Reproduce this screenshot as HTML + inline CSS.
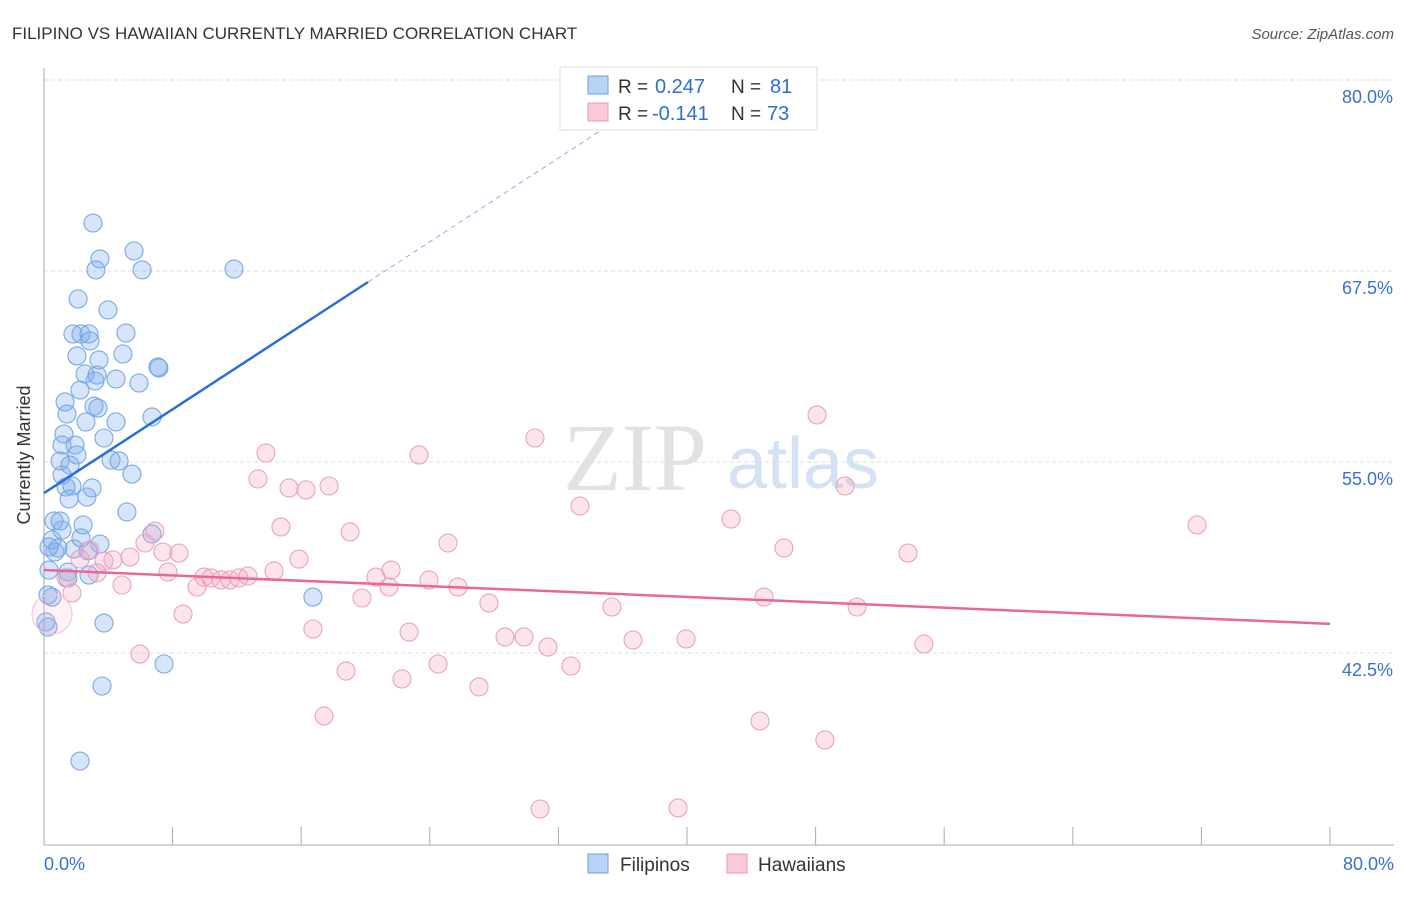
<!DOCTYPE html>
<html><head><meta charset="utf-8"><style>
body{margin:0;background:#fff;font-family:"Liberation Sans",sans-serif}
</style></head><body>
<svg width="1406" height="892" xmlns="http://www.w3.org/2000/svg" style="font-family:'Liberation Sans',sans-serif">
<text x="12" y="39" font-size="17" fill="#333">FILIPINO VS HAWAIIAN CURRENTLY MARRIED CORRELATION CHART</text>
<text x="1394" y="39" font-size="15" fill="#555" font-style="italic" text-anchor="end">Source: ZipAtlas.com</text>
<g><text x="635" y="490" font-size="96" fill="#e2e2e2" font-family="Liberation Serif" text-anchor="middle">ZIP</text><text x="803" y="488" font-size="72" fill="#d3e2f4" text-anchor="middle">atlas</text></g>
<g id="grid"></g>
<g id="axes"></g>
<g id="pts"></g>
<g id="trend"></g>
<text x="30" y="455" font-size="18" fill="#333" text-anchor="middle" transform="rotate(-90 30 455)">Currently Married</text>
<g>
<rect x="560" y="67" width="257" height="63" fill="#fff" stroke="#ddd"/>
<rect x="588" y="76" width="20" height="18" fill="#b9d3f5" stroke="#6a9ee0"/>
<rect x="588" y="103" width="20" height="18" fill="#f9c9d8" stroke="#e89ab5"/>
<text x="618" y="93" font-size="19" fill="#333">R =</text><text x="655" y="93" font-size="20" fill="#2a6fd6">0.247</text>
<text x="731" y="93" font-size="19" fill="#333">N =</text><text x="770" y="93" font-size="20" fill="#2a6fd6">81</text>
<text x="618" y="120" font-size="19" fill="#333">R =</text><text x="652" y="120" font-size="20" fill="#2a6fd6">-0.141</text>
<text x="731" y="120" font-size="19" fill="#333">N =</text><text x="767" y="120" font-size="20" fill="#2a6fd6">73</text>
</g>
<g>
<rect x="588" y="854" width="20" height="19" fill="#b9d3f5" stroke="#6a9ee0"/>
<text x="620" y="871" font-size="19" fill="#333">Filipinos</text>
<rect x="727" y="854" width="20" height="19" fill="#f9c9d8" stroke="#e89ab5"/>
<text x="758" y="871" font-size="19" fill="#333">Hawaiians</text>
</g>
</svg>
<script>
const yTicks=[80,67.5,55,42.5];
const yTickLabels=["80.0%","67.5%","55.0%","42.5%"];
const xTickLabels=["0.0%","80.0%"];
const blueX=[3.05,5.6,3.48,3.23,6.1,11.82,2.12,3.98,1.8,2.3,2.8,5.1,2.86,2.05,3.42,4.91,7.09,7.15,2.55,3.3,4.48,5.91,3.17,2.24,3.11,1.31,3.36,1.43,6.72,4.48,2.61,1.24,3.73,1.12,1.93,2.05,1.0,1.62,4.17,4.67,1.12,5.47,1.37,2.99,1.74,1.56,2.67,5.16,0.62,1.0,1.12,2.43,6.72,0.5,2.3,0.31,0.87,1.87,3.48,0.68,2.74,1.49,0.31,1.49,2.8,0.25,0.5,16.73,3.73,0.12,0.25,7.47,3.61,2.24];
const blueY=[70.64,68.81,68.29,67.57,67.57,67.63,65.67,64.95,63.38,63.38,63.38,63.44,62.92,61.94,61.68,62.07,61.22,61.15,60.76,60.69,60.43,60.17,60.3,59.71,58.66,58.93,58.53,58.14,57.95,57.62,57.62,56.83,56.57,56.11,56.11,55.46,55.07,54.8,55.13,55.07,54.15,54.21,53.36,53.3,53.43,52.58,52.71,51.73,51.14,51.14,50.55,50.88,50.29,49.9,50.03,49.44,49.37,49.31,49.63,49.11,49.18,47.8,47.93,47.41,47.6,46.3,46.16,46.16,44.46,44.53,44.2,41.78,40.34,35.43];
const pinkX=[13.81,23.33,30.54,48.09,13.31,15.24,16.3,17.73,33.34,49.83,71.73,42.74,14.74,19.04,25.13,6.9,6.28,2.86,7.4,8.4,46.03,53.75,15.86,5.35,4.29,3.73,2.24,7.71,9.95,10.39,11.01,11.57,12.13,12.69,14.31,20.65,21.59,23.95,25.75,4.85,1.37,9.52,21.46,1.74,19.78,27.68,35.33,44.79,50.58,8.65,16.73,22.71,28.68,29.86,31.35,36.64,39.94,54.74,5.97,24.51,18.79,32.78,22.27,27.06,17.42,44.54,48.58,30.86,39.44,3.3,0.5];
const pinkY=[55.59,55.46,56.57,58.08,53.89,53.3,53.17,53.43,52.12,53.43,50.88,51.27,50.75,50.42,49.7,50.48,49.7,49.24,49.11,49.04,49.37,49.04,48.65,48.78,48.59,48.52,48.65,47.8,47.47,47.41,47.28,47.28,47.41,47.54,47.87,47.47,47.93,47.28,46.82,46.95,47.41,46.82,46.82,46.43,46.1,45.77,45.51,46.16,45.51,45.05,44.07,43.87,43.55,43.55,42.89,43.35,43.42,43.09,42.43,41.78,41.32,41.65,40.8,40.28,38.38,38.05,36.81,32.29,32.36,47.74,45.05];
const blueTrend=[52.97,0.685];
const pinkTrend=[47.93,-0.044];
const NS="http://www.w3.org/2000/svg";
const sx=v=>44+v*16.075, sy=v=>80+(80-v)*15.28;
function mk(tag,attrs,parent){const e=document.createElementNS(NS,tag);for(const k in attrs)e.setAttribute(k,attrs[k]);parent.appendChild(e);return e;}
const grid=document.getElementById('grid'),axes=document.getElementById('axes'),pts=document.getElementById('pts'),tr=document.getElementById('trend');
yTicks.forEach((t,i)=>{
 const l=mk('line',{x1:44,x2:1393,y1:sy(t),y2:sy(t),stroke:'#ddd','stroke-dasharray':'4,3'},grid);
 
 
 const tx=mk('text',{x:1393,y:sy(t)+23,'font-size':18,fill:'#3a70d0','text-anchor':'end'},axes);
 tx.textContent=yTickLabels[i];
 
 
});
mk('line',{x1:44,x2:44,y1:68,y2:845,stroke:'#aaa'},axes);
mk('line',{x1:44,x2:1394,y1:845,y2:845,stroke:'#aaa'},axes);
for(let i=0;i<=10;i++){const t=mk('line',{x1:sx(i*8),x2:sx(i*8),y1:827,y2:845,stroke:'#aaa'},axes);}
[[0,'start',44],[80,'end',1394]].forEach((p,i)=>{const t=mk('text',{x:p[2],y:870,'font-size':18,fill:'#3a70d0','text-anchor':p[1]},axes);t.textContent=xTickLabels[i];});
blueX.forEach((x,i)=>{const c=mk('circle',{cx:sx(x),cy:sy(blueY[i]),r:9,fill:'rgba(120,170,235,0.3)',stroke:'#7aa8e4','stroke-width':1.1},pts);});
pinkX.forEach((x,i)=>{const big=i==pinkX.length-1;const c=mk('circle',{cx:sx(x),cy:sy(pinkY[i]),r:big?20:9,fill:big?'rgba(245,170,195,0.15)':'rgba(245,165,195,0.3)',stroke:big?'#f3c4d4':'#eaa2bc','stroke-width':1.1},pts);});
const bf=x=>blueTrend[0]+blueTrend[1]*x, pf=x=>pinkTrend[0]+pinkTrend[1]*x;
let b1=mk('line',{x1:sx(0),y1:sy(bf(0)),x2:sx(20.16),y2:sy(bf(20.16)),stroke:'#2a6fd6','stroke-width':2.5},tr);

const xe=(80-blueTrend[0])/blueTrend[1];
let b2=mk('line',{x1:sx(20.16),y1:sy(bf(20.16)),x2:sx(xe),y2:sy(80),stroke:'#8ab0e6','stroke-width':1,'stroke-dasharray':'5,4'},tr);

let p1=mk('line',{x1:sx(0),y1:sy(pf(0)),x2:sx(80),y2:sy(pf(80)),stroke:'#e8679a','stroke-width':2.5},tr);

</script>
</body></html>
